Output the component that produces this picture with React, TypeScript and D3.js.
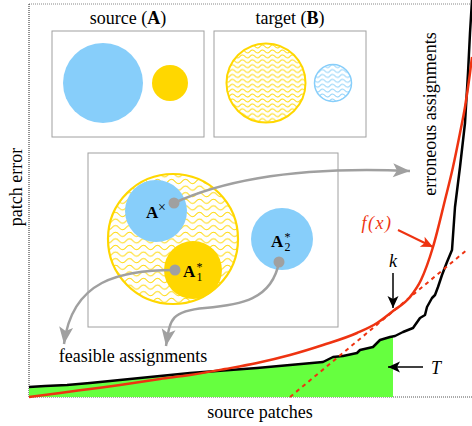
import React from 'react';
import * as d3 from 'd3';

// source patch rank (x) against patch error (y)
const errorX = [0, 16, 38, 61, 91, 131, 161, 228, 261, 294, 304, 314, 328, 331, 344, 351, 361, 366, 374, 384, 391, 396, 398, 403, 406, 409, 413, 418, 423, 426, 431, 436, 439, 441, 443];
const errorY = [10, 11, 12, 14, 17, 21, 24, 29, 32, 35, 40, 41, 44, 47, 50, 57, 60, 61, 65, 69, 79, 82, 90, 99, 102, 110, 122, 135, 147, 190, 230, 274, 324, 364, 397];

// fitted model f(x)
const fitX = [0, 31, 61, 91, 131, 161, 196, 228, 261, 294, 328, 348, 364, 381, 392, 404, 416, 424, 431, 436, 441, 443];
const fitY = [0, 4, 8, 12, 18, 22, 28, 34, 42, 52, 64, 74, 86, 100, 117, 150, 197, 230, 264, 290, 324, 340];

// tangent of f at k
const tangentX = [261, 439];
const tangentY = [0, 148];

const cutoffK = 364;

const W = 472;
const H = 426;
const RED = '#ee3311';
const BLUE = '#87cefa';
const YELLOW = '#ffd700';
const GRAY = '#a0a0a0';
const TXT = { fontFamily: '"Liberation Serif"' };

const x = d3.scaleLinear().domain([0, 443]).range([29, 472]);
const y = d3.scaleLinear().domain([0, 393]).range([397, 4]);

const errorPts: [number, number][] = errorX.map((v, i) => [v, errorY[i]]);
const fitPts: [number, number][] = fitX.map((v, i) => [v, fitY[i]]);
const tangentPts: [number, number][] = tangentX.map((v, i) => [v, tangentY[i]]);

const line = d3.line<[number, number]>().x(d => x(d[0])).y(d => y(d[1]));
const smooth = d3.line<[number, number]>().x(d => x(d[0])).y(d => y(d[1])).curve(d3.curveMonotoneX);

// green area below the error curve up to k
const kIdx = d3.bisector((d: [number, number]) => d[0]).left(errorPts, cutoffK);
const areaPts: [number, number][] = errorPts.slice(0, kIdx);
{
  const a = errorPts[kIdx - 1];
  const b = errorPts[kIdx];
  const t = (cutoffK - a[0]) / (b[0] - a[0]);
  areaPts.push([cutoffK, a[1] + t * (b[1] - a[1])]);
}
const area = d3.area<[number, number]>().x(d => x(d[0])).y0(y(0)).y1(d => y(d[1]));

const Bold = ({ children }: { children: React.ReactNode }) => <tspan fontWeight="bold">{children}</tspan>;

// wavy hatch, one period per tile
const Wave = ({ id, color, w, h, amp }: { id: string; color: string; w: number; h: number; amp: number }) => {
  const m = h / 2;
  const q = w / 4;
  return (
    <pattern id={id} width={w} height={h} patternUnits="userSpaceOnUse">
      <path
        d={`M${-w} ${m} Q${-w + q} ${m - 2 * amp} ${-w / 2} ${m} T0 ${m} T${w / 2} ${m} T${w} ${m} T${1.5 * w} ${m}`}
        fill="none" stroke={color} strokeWidth="1"
      />
    </pattern>
  );
};

// bold A with a star above and an index below
const AStar = ({ x0, y0, sub }: { x0: number; y0: number; sub: string }) => (
  <text x={x0} y={y0} fontSize={17} style={TXT}>
    <Bold>A</Bold>
    <tspan x={x0 + 13.5} y={y0 - 6} fontSize={12}>*</tspan>
    <tspan x={x0 + 13.5} y={y0 + 4} fontSize={12}>{sub}</tspan>
  </text>
);

const App = () => {
  return (
    <svg width={W} height={H} style={{ position: 'absolute', left: 0, top: 0, background: '#fff' }}>
      <defs>
        <Wave id="waveY" color={YELLOW} w={10} h={4.9} amp={1.5} />
        <Wave id="waveB" color={BLUE} w={10} h={4.9} amp={1.5} />
        <Wave id="waveBig" color={YELLOW} w={14} h={6.6} amp={2.1} />
        <marker id="grayHead" markerUnits="userSpaceOnUse" viewBox="-18 -8 20 16" refX="0" refY="0" markerWidth="20" markerHeight="16" orient="auto">
          <path d="M0 0 L-17 -7 L-13 0 L-17 7 Z" fill={GRAY} />
        </marker>
        <marker id="blackHead" markerUnits="userSpaceOnUse" viewBox="-14 -7 16 14" refX="0" refY="0" markerWidth="16" markerHeight="14" orient="auto">
          <path d="M0 0 L-12 -5.5 L-9 0 L-12 5.5 Z" fill="#000" />
        </marker>
        <marker id="redHead" markerUnits="userSpaceOnUse" viewBox="-14 -7 16 14" refX="0" refY="0" markerWidth="16" markerHeight="14" orient="auto">
          <path d="M0 0 L-12 -5.5 L-9 0 L-12 5.5 Z" fill={RED} />
        </marker>
      </defs>

      {/* axes frame */}
      <line x1={29} y1={4} x2={472} y2={4} stroke="#888" strokeDasharray="1,1" />
      <line x1={29} y1={4} x2={29} y2={397} stroke="#222" strokeDasharray="1,1" />
      <line x1={29} y1={397} x2={472} y2={397} stroke="#555" strokeDasharray="1,1" />

      {/* curves */}
      <path d={area(areaPts) || ''} fill="#66ff3f" />
      <path d={line(errorPts) || ''} fill="none" stroke="#000" strokeWidth={2.5} strokeLinejoin="round" />
      <path d={smooth(fitPts) || ''} fill="none" stroke={RED} strokeWidth={2.5} />
      <path d={line(tangentPts) || ''} fill="none" stroke={RED} strokeWidth={2} strokeDasharray="4,4" />

      {/* top: source and target */}
      <text x={128} y={24} fontSize={18} textAnchor="middle" style={TXT}>source (<Bold>A</Bold>)</text>
      <text x={290} y={24} fontSize={18} textAnchor="middle" style={TXT}>target (<Bold>B</Bold>)</text>
      <rect x={52} y={31} width={152} height={106} fill="#fff" stroke={GRAY} strokeWidth={1} />
      <rect x={214} y={31} width={152} height={106} fill="#fff" stroke={GRAY} strokeWidth={1} />
      <circle cx={103} cy={83} r={40} fill={BLUE} />
      <circle cx={170} cy={83} r={18} fill={YELLOW} />
      <circle cx={266} cy={83} r={39.5} fill="url(#waveY)" stroke={YELLOW} strokeWidth={2} />
      <circle cx={333} cy={83} r={18.5} fill="url(#waveB)" stroke={BLUE} strokeWidth={1.5} />

      {/* middle: assignments */}
      <rect x={88} y={153} width={250} height={174} fill="#fff" stroke={GRAY} strokeWidth={1} />
      <circle cx={173} cy={239} r={65} fill="url(#waveBig)" stroke={YELLOW} strokeWidth={2.2} />
      <circle cx={156} cy={211} r={31} fill={BLUE} />
      <circle cx={193} cy={270} r={29} fill={YELLOW} />
      <circle cx={282} cy={239} r={31} fill={BLUE} />
      <text x={146} y={218} fontSize={17} style={TXT}>
        <Bold>A</Bold>
        <tspan x={158} y={212} fontSize={14}>×</tspan>
      </text>
      <AStar x0={183} y0={277} sub="1" />
      <AStar x0={271} y0={247} sub="2" />

      {/* gray arrows */}
      <path d="M174 203 C 235 175, 320 167, 410 171" fill="none" stroke={GRAY} strokeWidth={2.5} markerEnd="url(#grayHead)" />
      <path d="M175 270 C 120 270, 72 280, 64 344" fill="none" stroke={GRAY} strokeWidth={2.5} markerEnd="url(#grayHead)" />
      <path d="M279 262 C 272 300, 240 305, 205 308 S 170 320, 166 346" fill="none" stroke={GRAY} strokeWidth={2.5} markerEnd="url(#grayHead)" />
      <circle cx={174} cy={203} r={5.5} fill={GRAY} />
      <circle cx={175} cy={270} r={5.5} fill={GRAY} />
      <circle cx={279} cy={262} r={5.5} fill={GRAY} />

      {/* annotations */}
      <text x={133} y={362} fontSize={18} textAnchor="middle" style={TXT}>feasible assignments</text>
      <text transform="translate(436,114) rotate(-90)" fontSize={18} textAnchor="middle" style={TXT}>erroneous assignments</text>
      <text transform="translate(22,187) rotate(-90)" fontSize={18} textAnchor="middle" style={TXT}>patch error</text>
      <text x={260} y={418} fontSize={18} textAnchor="middle" style={TXT}>source patches</text>

      <text x={377} y={229} fontSize={18} fill={RED} textAnchor="middle" fontStyle="italic" letterSpacing={1.5} style={TXT}>f(x)</text>
      <line x1={398} y1={230} x2={433} y2={247} stroke={RED} strokeWidth={2} markerEnd="url(#redHead)" />

      <text x={393} y={267} fontSize={18} textAnchor="middle" fontStyle="italic" style={TXT}>k</text>
      <line x1={393} y1={273} x2={393} y2={308} stroke="#000" strokeWidth={1.5} markerEnd="url(#blackHead)" />

      <text x={436} y={374} fontSize={18} textAnchor="middle" fontStyle="italic" style={TXT}>T</text>
      <line x1={423} y1={367} x2={388} y2={367} stroke="#000" strokeWidth={1.5} markerEnd="url(#blackHead)" />
    </svg>
  );
};

export default App;
